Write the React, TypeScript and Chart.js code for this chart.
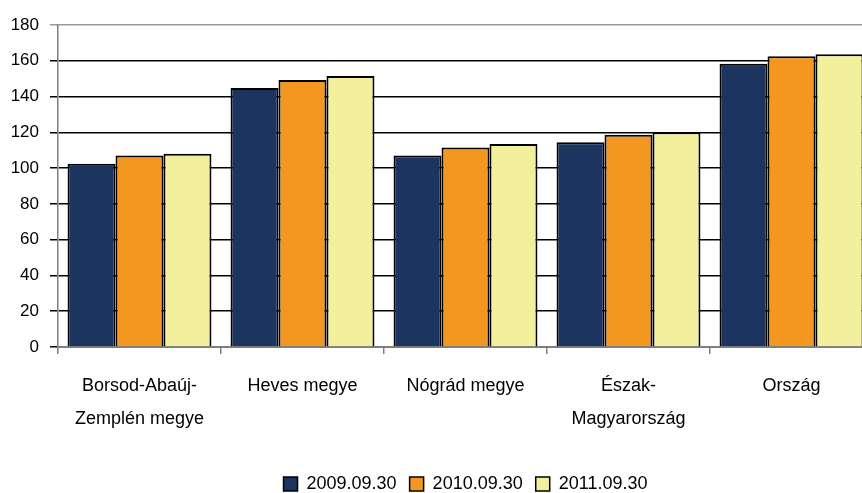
import React, { useEffect, useRef } from "react";
import { Chart, registerables } from "chart.js";

Chart.register(...registerables);

const categories: (string | string[])[] = [
  ["Borsod-Abaúj-", "Zemplén megye"],
  "Heves megye",
  "Nógrád megye",
  ["Észak-", "Magyarország"],
  "Ország",
];
const seriesLabels = ["2009.09.30", "2010.09.30", "2011.09.30"];
const values2009 = [102.5, 144.8, 107, 114.4, 158.3];
const values2010 = [107, 149.3, 111.5, 118.7, 162.5];
const values2011 = [108, 151.5, 113.5, 120, 163.6];
const seriesColors = ["#1B3560", "#F39721", "#F2F09C"];
const yMin = 0;
const yMax = 180;
const yStep = 20;

const FONT = "'Liberation Sans', Arial, sans-serif";

const legendShift = {
  id: "legendShift",
  afterLayout(chart: any) {
    const lg = chart.legend;
    if (lg) {
      lg.left = 0;
      lg.right = chart.width;
      lg.width = chart.width;
    }
  },
};

export default function App() {
  const ref = useRef<HTMLCanvasElement | null>(null);

  useEffect(() => {
    document.body.style.margin = "0";
    const canvas = ref.current;
    if (!canvas) return;
    const data = [values2009, values2010, values2011];
    const chart = new Chart(canvas, {
      type: "bar",
      data: {
        labels: categories,
        datasets: seriesLabels.map((label, i) => ({
          label,
          data: data[i],
          backgroundColor: seriesColors[i],
          borderColor: "#000000",
          borderWidth: 2,
          borderSkipped: "bottom",
          categoryPercentage: 0.883,
          barPercentage: 1.0,
        })),
      },
      plugins: [legendShift],
      options: {
        responsive: false,
        animation: false,
        devicePixelRatio: 1,
        layout: { padding: { top: 25, left: 8, right: 58, bottom: 0 } },
        plugins: {
          tooltip: { enabled: false },
          legend: {
            position: "bottom",
            labels: {
              color: "#000000",
              font: { family: FONT, size: 18 },
              boxWidth: 14,
              boxHeight: 14,
              padding: 13,
              generateLabels: (c: any) =>
                c.data.datasets.map((ds: any, i: number) => ({
                  text: ds.label,
                  fillStyle: ds.backgroundColor,
                  strokeStyle: "#000000",
                  lineWidth: 1.5,
                  datasetIndex: i,
                  hidden: false,
                  fontColor: "#000000",
                })),
            },
          },
        },
        scales: {
          x: {
            afterFit: (scale: any) => {
              scale.height = 115;
            },
            grid: {
              offset: true,
              drawOnChartArea: false,
              drawTicks: true,
              tickLength: 7,
              color: "#7f7f7f",
              lineWidth: 1.5,
            },
            border: { display: true, color: "#7f7f7f", width: 1.5 },
            ticks: {
              color: "#000000",
              font: { family: FONT, size: 18, lineHeight: 1.83 },
              padding: 16,
              maxRotation: 0,
              autoSkip: false,
            },
          },
          y: {
            min: yMin,
            max: yMax,
            afterFit: (scale: any) => {
              scale.width = 50;
            },
            grid: {
              color: (ctx: any) =>
                ctx.tick && ctx.tick.value === yMax ? "#9a9a9a" : "#000000",
              lineWidth: 1.5,
              tickLength: 8,
              drawTicks: true,
            },
            border: { display: true, color: "#7f7f7f", width: 1.5 },
            ticks: {
              stepSize: yStep,
              color: "#000000",
              font: { family: FONT, size: 17 },
              padding: 11,
            },
          },
        },
      },
    });
    return () => chart.destroy();
  }, []);

  return (
    <div
      style={{
        position: "relative",
        width: 862,
        height: 493,
        overflow: "hidden",
        background: "#ffffff",
      }}
    >
      <canvas
        ref={ref}
        width={931}
        height={503}
        style={{ position: "absolute", left: 0, top: 0, width: 931, height: 503 }}
      />
    </div>
  );
}
